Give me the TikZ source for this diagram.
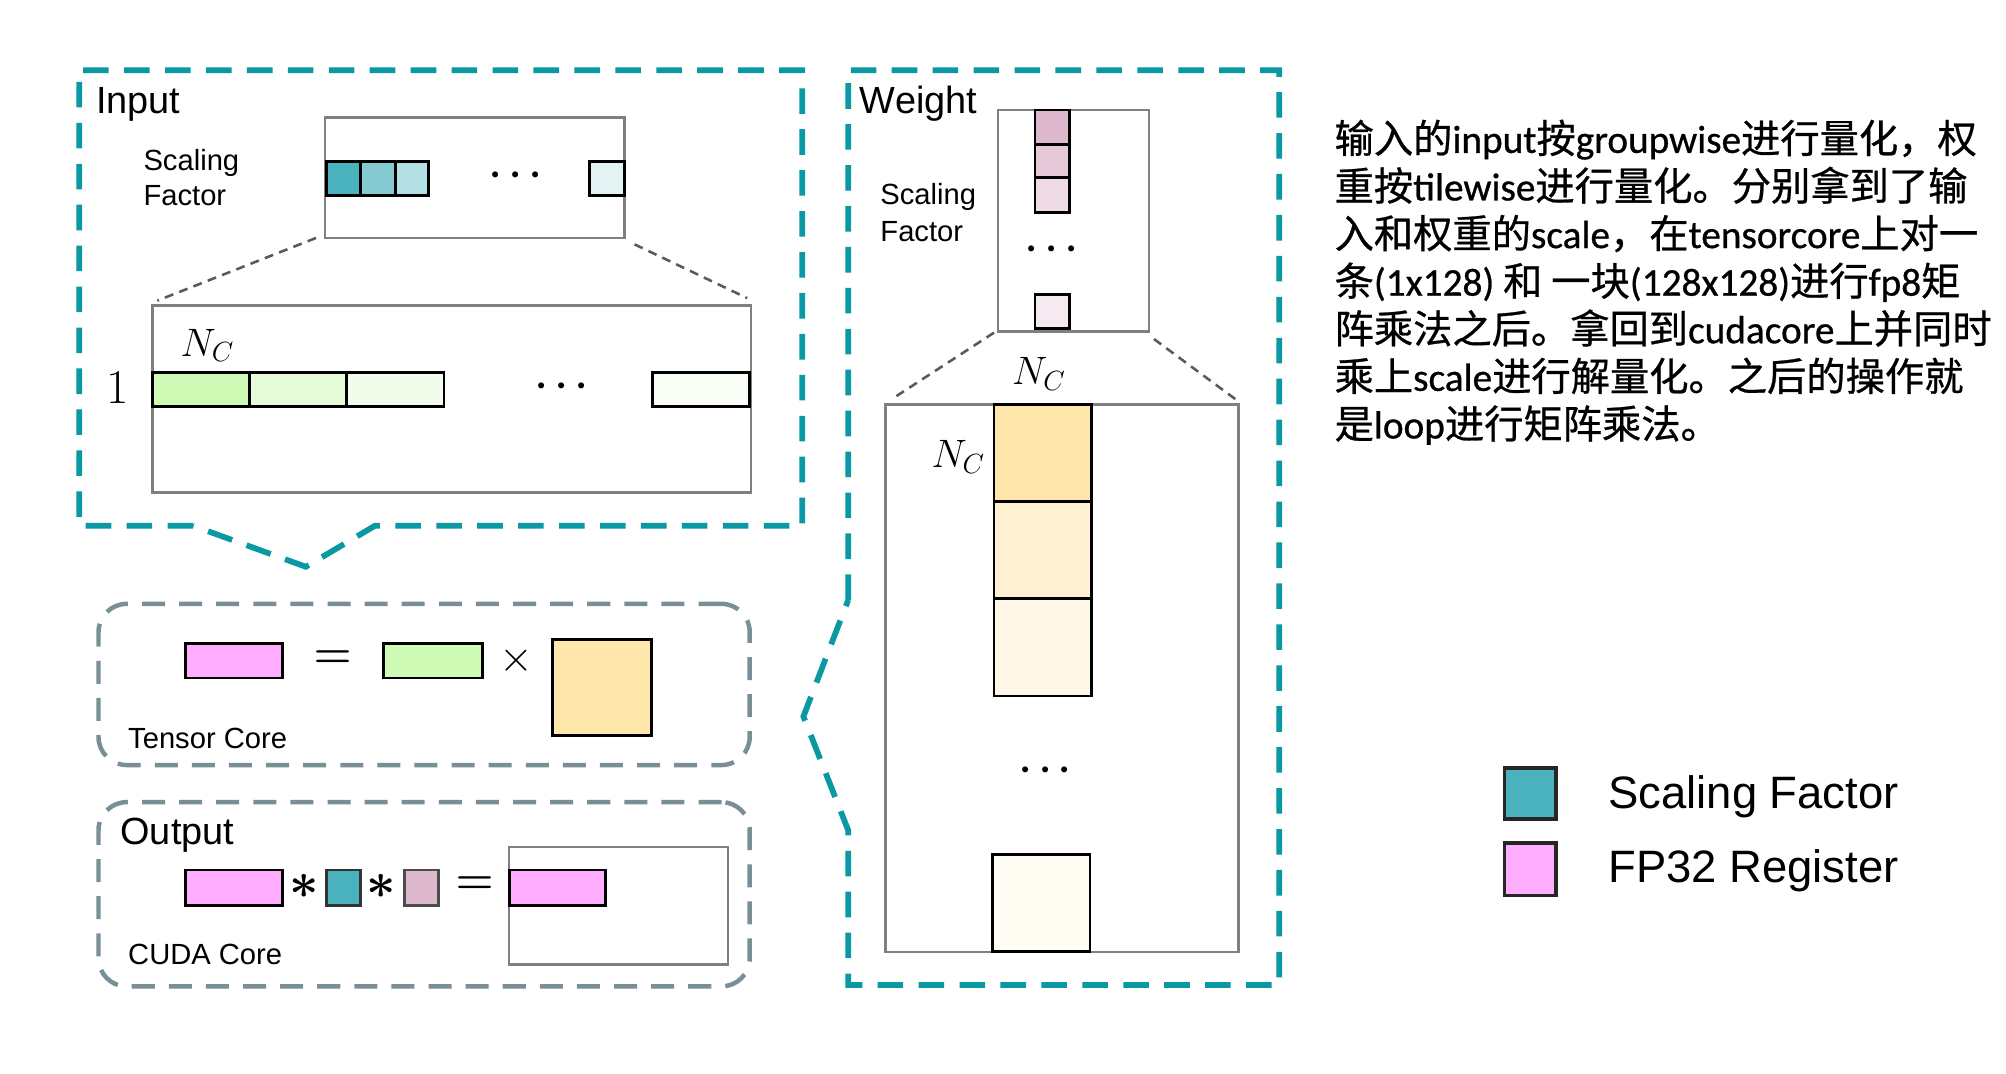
\RequirePackage{fix-cm}
\documentclass[tikz,border=0pt]{standalone}
\usepackage[no-math]{fontspec}
\setmainfont{Liberation Sans}
\newfontfamily\cjk{Noto Sans CJK SC}[FakeBold=0.7]
\newfontfamily\lat{Carlito}[FakeBold=0.7]
\usetikzlibrary{calc}

\definecolor{frameteal}{RGB}{10,152,162}
\definecolor{coregray}{RGB}{122,142,152}
\definecolor{holdgray}{RGB}{128,128,128}
\definecolor{zoomgray}{RGB}{90,90,90}
\definecolor{sfA}{HTML}{4AB2BC}
\definecolor{sfB}{HTML}{85CAD0}
\definecolor{sfC}{HTML}{B3DEE2}
\definecolor{sfD}{HTML}{E3F2F3}
\definecolor{grA}{HTML}{CFFBB7}
\definecolor{grB}{HTML}{E5FBD9}
\definecolor{grC}{HTML}{F1FCEA}
\definecolor{grD}{HTML}{F9FEF6}
\definecolor{pkA}{HTML}{DDB7CB}
\definecolor{pkB}{HTML}{E6C9D8}
\definecolor{pkC}{HTML}{EFDBE6}
\definecolor{pkD}{HTML}{F6EAF1}
\definecolor{ylA}{HTML}{FFE7AB}
\definecolor{ylB}{HTML}{FFF2D3}
\definecolor{ylC}{HTML}{FFF8E9}
\definecolor{ylD}{HTML}{FFFCF3}
\definecolor{fpreg}{HTML}{FFAEFF}

\newcommand\bx[6]{\node[#2, anchor=north west, minimum width={(#5-#3)*1pt}, minimum height={(#6-#4)*1pt}] (#1) at (#3,#4) {};}

\tikzset{
  tealframe/.style={draw=frameteal, line width=4.5pt, dash pattern=on 20pt off 12pt},
  corebox/.style={draw=coregray, line width=3.5pt, dash pattern=on 18pt off 11pt, rounded corners=22pt, inner sep=0, outer sep=0},
  holder/.style={draw=holdgray, line width=2pt, inner sep=0, outer sep=0, fill=white},
  cellbox/.style={draw=black, line width=2.2pt, inner sep=0, outer sep=0},
  legsq/.style={draw=black!85, line width=3pt, inner sep=0, outer sep=0},
  zoomdash/.style={draw=zoomgray, line width=2pt, dash pattern=on 7pt off 5pt},
  biglabel/.style={inner sep=0, anchor=base west, font=\fontsize{29.6}{34}\selectfont},
  smalllabel/.style={inner sep=0, anchor=base west, font=\fontsize{22.8}{28}\selectfont},
  mathlabel/.style={inner sep=0, anchor=center, font=\fontsize{31}{36}\selectfont},
  dotslabel/.style={inner sep=0, anchor=center, font=\fontsize{30}{34}\selectfont\boldmath},
  oplabel/.style={inner sep=0, anchor=center, font=\fontsize{34}{38}\selectfont\boldmath},
  starlabel/.style={inner sep=0, anchor=center, font=\fontsize{40}{44}\selectfont\boldmath},
  legendtext/.style={inner sep=0, anchor=base west, font=\fontsize{35.5}{40}\selectfont},
  cjkline/.style={inner sep=0, anchor=base west, font=\fontsize{30.7}{37}\cjk},
}

\begin{document}
\begin{tikzpicture}[x=1pt, y=-1pt]
\useasboundingbox (0,0) rectangle (1568,839);
\fill[white] (0,0) rectangle (1568,839);

% outer teal frames
\draw[tealframe] (151,411) -- (62,411) -- (62,55) -- (627,55) -- (627,411) -- (293,411) -- (239,443) -- cycle;
\draw[tealframe] (663,469) -- (663,55) -- (1000,55) -- (1000,770) -- (663,770) -- (663,649) -- (628,560) -- cycle;

% ---------------- Input ----------------
\node[biglabel] (tIn) at (75,89) {Input};
\node[smalllabel] (tInS) at (112,133) {Scaling};
\node[smalllabel] (tInF) at (112,161) {Factor};
\bx{inSF}{holder}{254}{92}{488}{186}
\bx{ia1}{cellbox,fill=sfA}{255}{126}{282}{153}
\bx{ia2}{cellbox,fill=sfB}{282}{126}{309}{153}
\bx{ia3}{cellbox,fill=sfC}{309}{126}{335}{153}
\bx{ia4}{cellbox,fill=sfD}{461}{126}{488}{153}
\node[dotslabel] (iadots) at (403,137) {$\cdots$};

\bx{inBig}{holder}{119}{239}{587}{385}
\bx{ig1}{cellbox,fill=grA}{119}{291}{195}{318}
\bx{ig2}{cellbox,fill=grB}{195}{291}{271}{318}
\bx{ig3}{cellbox,fill=grC}{271}{291}{347}{318}
\bx{ig4}{cellbox,fill=grD}{510}{291}{586}{318}
\node[dotslabel] (igdots) at (439,302) {$\cdots$};
\node[mathlabel] (ncIn) at (162,270) {$N_C$};
\node[inner sep=0, anchor=center, font=\fontsize{38}{42}\selectfont] (one) at (92,303) {$1$};

\draw[zoomdash] ($(inSF.south west)+(-7,0)$) -- ($(inBig.north west)+(4,-4)$);
\draw[zoomdash] ($(inSF.south east)+(8,5)$) -- ($(inBig.north east)+(-3,-6)$);

% ---------------- Weight ----------------
\node[biglabel] (tW) at (672,89) {Weight};
\node[smalllabel] (tWS) at (688,160) {Scaling};
\node[smalllabel] (tWF) at (688,189) {Factor};
\bx{wSF}{holder}{780}{86}{898}{259}
\bx{wp1}{cellbox,fill=pkA}{809}{86}{836}{113}
\bx{wp2}{cellbox,fill=pkB}{809}{113}{836}{139}
\bx{wp3}{cellbox,fill=pkC}{809}{139}{836}{166}
\bx{wp4}{cellbox,fill=pkD}{809}{230}{836}{257}
\node[dotslabel] (wpdots) at (822,195) {$\cdots$};

\bx{wBig}{holder}{692}{316}{968}{744}
\bx{wy1}{cellbox,fill=ylA}{777}{316}{853}{392}
\bx{wy2}{cellbox,fill=ylB}{777}{392}{853}{468}
\bx{wy3}{cellbox,fill=ylC}{777}{468}{853}{544}
\bx{wy4}{cellbox,fill=ylD}{776}{668}{852}{744}
\node[dotslabel] (wydots) at (817,602) {$\cdots$};
\node[mathlabel] (ncWt) at (812,292) {$N_C$};
\node[mathlabel] (ncWl) at (749,357) {$N_C$};

\draw[zoomdash] ($(wSF.south west)+(-3,1)$) -- ($(wBig.north west)+(5,-4)$);
\draw[zoomdash] ($(wSF.south east)+(4,6)$) -- ($(wBig.north east)+(-1,-3)$);

% ---------------- Tensor Core ----------------
\bx{tc}{corebox}{77}{472}{586}{598}
\bx{tcP}{cellbox,fill=fpreg}{145}{503}{221}{530}
\node[oplabel] (tcEq) at (260,515) {$=$};
\bx{tcG}{cellbox,fill=grA}{300}{503}{377}{530}
\node[oplabel, font=\fontsize{34}{38}\selectfont] (tcX) at (404,516) {$\times$};
\bx{tcY}{cellbox,fill=ylA}{432}{500}{509}{575}
\node[smalllabel] (tTC) at (100,585) {Tensor Core};

% ---------------- Output / CUDA Core ----------------
\bx{oc}{corebox}{77}{627}{586}{771}
\node[biglabel] (tOut) at (94,660) {Output};
\bx{oBig}{holder}{398}{662}{569}{754}
\bx{oP}{cellbox,fill=fpreg}{145}{680}{221}{708}
\node[starlabel] (oS1) at (238,693) {$\ast$};
\bx{oT}{cellbox,fill=sfA,draw=black!80}{255}{680}{282}{708}
\node[starlabel] (oS2) at (298,693) {$\ast$};
\bx{oM}{cellbox,fill=pkA,draw=black!70}{316}{680}{343}{708}
\node[oplabel] (oEq) at (371,692) {$=$};
\bx{oR}{cellbox,fill=fpreg}{398}{680}{473}{708}
\node[smalllabel] (tCC) at (100,754) {CUDA Core};

% ---------------- Chinese text ----------------
\node[cjkline] (l1) at (1043,119.5) {输入的{\lat input}按{\lat groupwise}进行量化，权};
\node[cjkline] (l2) at (1043,156.7) {重按{\lat tilewise}进行量化。分别拿到了输};
\node[cjkline] (l3) at (1043,193.9) {入和权重的{\lat scale}，在{\lat tensorcore}上对一};
\node[cjkline] (l4) at (1043,231.1) {条{\lat (1x128) }和 一块{\lat (128x128)}进行{\lat fp8}矩};
\node[cjkline] (l5) at (1043,268.3) {阵乘法之后。拿回到{\lat cudacore}上并同时};
\node[cjkline] (l6) at (1043,305.5) {乘上{\lat scale}进行解量化。之后的操作就};
\node[cjkline] (l7) at (1043,342.7) {是{\lat loop}进行矩阵乘法。};

% ---------------- Legend ----------------
\bx{lgS}{legsq,fill=sfA}{1176}{600}{1216}{640}
\bx{lgF}{legsq,fill=fpreg}{1176}{659}{1216}{700}
\node[legendtext] (lgSt) at (1257,632) {Scaling Factor};
\node[legendtext] (lgFt) at (1257,690) {FP32 Register};
\end{tikzpicture}
\end{document}
